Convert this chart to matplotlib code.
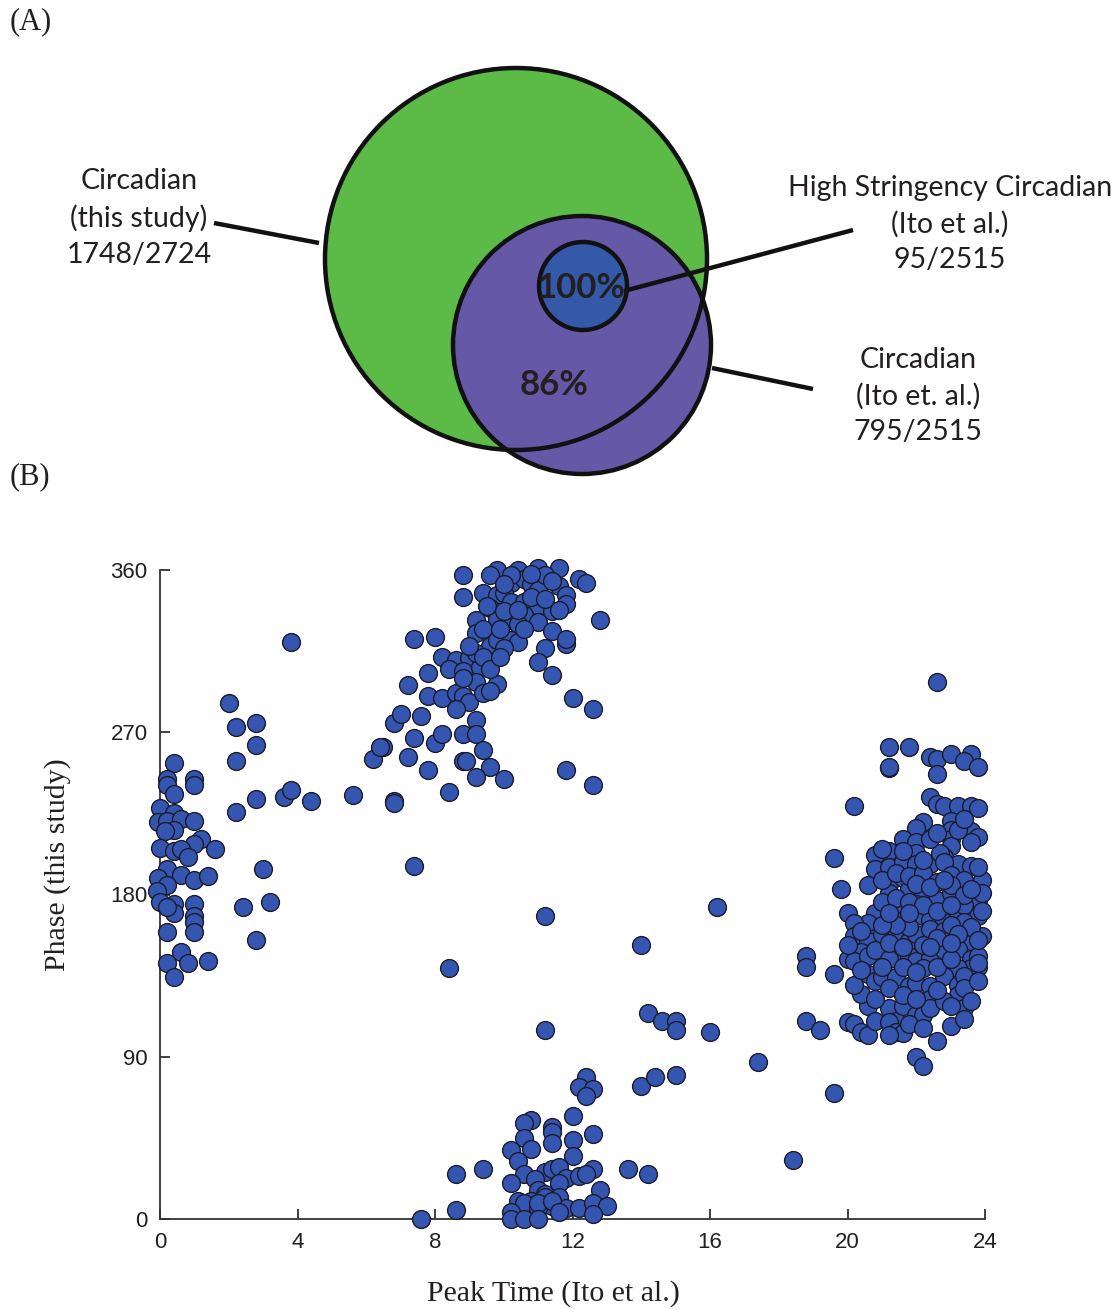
import numpy as np
import matplotlib
matplotlib.use("Agg")
import matplotlib.pyplot as plt
from matplotlib.patches import Circle

# ---- panel A (overlap of circadian gene sets) ----
venn_labels = ["Circadian\n(this study)\n1748/2724",
               "High Stringency Circadian\n(Ito et al.)\n95/2515",
               "Circadian\n(Ito et. al.)\n795/2515"]
venn_pcts = ["100%", "86%"]

# ---- panel B: (peak time Ito et al. [h], phase this study [deg]) ----
left_pts = [(0.4, 253), (0.2, 244), (0.2, 241), (0.4, 236), (1.0, 244), (1.0, 241), (0.0, 228),
            (-0.05, 220), (0.4, 225), (0.2, 221), (0.6, 222), (0.4, 216), (0.15, 215), (1.0, 221),
            (1.2, 211), (1.0, 208), (1.6, 205), (0.0, 206), (0.4, 204), (0.6, 205), (0.8, 201),
            (0.2, 194), (-0.05, 189), (0.6, 191), (1.0, 188), (1.4, 190), (0.2, 185), (-0.1, 182),
            (0.0, 176), (0.4, 175), (0.4, 170), (0.2, 173), (1.0, 175), (1.0, 168), (1.0, 165),
            (1.0, 159), (0.2, 159), (0.6, 148), (0.2, 142), (0.8, 142), (1.4, 143), (0.4, 134),
            (2.2, 254), (2.8, 263), (2.2, 226), (2.8, 233), (2.4, 173), (2.8, 155), (3.0, 194),
            (3.2, 176), (2.0, 286), (2.2, 273), (2.8, 275), (3.6, 234), (3.8, 238), (4.4, 232),
            (5.6, 235), (6.8, 232), (3.8, 320)]

top_pts = [(8.8, 357), (8.8, 345), (9.8, 360), (9.6, 357), (10.4, 360), (11.0, 361), (11.6, 361),
           (12.2, 355), (12.4, 353), (9.4, 347), (10.2, 353), (10.6, 355), (10.8, 352), (11.0, 349),
           (11.2, 357), (11.6, 351), (11.8, 346), (11.8, 341), (9.8, 346), (10.0, 347), (9.6, 339),
           (10.2, 342), (10.6, 342), (11.0, 340), (11.4, 337), (9.2, 332), (9.8, 333), (10.2, 332),
           (10.6, 335), (10.4, 330), (11.0, 331), (9.2, 325), (9.4, 327), (9.6, 318), (9.8, 321),
           (10.2, 321), (10.4, 320), (10.0, 317), (11.4, 326), (11.8, 319), (11.8, 322), (11.2, 317),
           (11.0, 309), (11.4, 302), (12.8, 332), (7.4, 322), (8.0, 323), (8.2, 312), (8.6, 310),
           (9.0, 311), (8.4, 305), (8.8, 304), (9.3, 306), (9.2, 314), (7.8, 303), (9.2, 298),
           (9.8, 297), (7.2, 296), (7.8, 290), (8.2, 289), (8.6, 292), (8.8, 290), (9.0, 287),
           (9.4, 292), (9.6, 293), (8.6, 283), (6.8, 275), (7.0, 280), (7.6, 279), (9.2, 277),
           (12.0, 289), (12.6, 283), (7.4, 267), (8.0, 264), (8.2, 269), (8.8, 269), (9.2, 269),
           (9.4, 260), (6.5, 262), (7.2, 256), (8.8, 254), (8.9, 254), (9.6, 251), (10.0, 244),
           (9.2, 245), (7.8, 249), (8.4, 237), (6.8, 231), (11.8, 249), (12.6, 241), (6.2, 255),
           (6.4, 262), (9.5, 340), (10.0, 337), (10.8, 345), (10.4, 338), (9.9, 327), (10.6, 327),
           (11.2, 344), (10.2, 357), (10.8, 358), (11.4, 354), (9.0, 318), (8.8, 300), (9.4, 312),
           (9.6, 305), (10.0, 352), (11.6, 338), (9.9, 312)]

mid_pts = [(8.4, 139), (11.2, 105), (14.2, 114), (14.6, 110), (15.0, 110), (15.0, 105), (16.0, 104),
           (17.4, 87), (14.0, 74), (14.4, 79), (15.0, 80), (12.4, 79), (12.2, 73), (12.6, 72),
           (12.4, 68), (12.0, 57), (10.8, 55), (10.6, 53), (11.4, 51), (11.4, 48), (10.6, 45),
           (11.4, 42), (12.0, 44), (12.6, 47), (10.8, 39), (10.2, 38), (10.4, 32), (12.0, 35),
           (9.4, 28), (8.6, 25), (13.6, 28), (14.2, 25), (10.6, 25), (10.2, 20), (11.2, 26),
           (11.4, 28), (11.6, 29), (11.8, 23), (12.2, 24), (12.6, 28), (12.4, 25), (10.9, 22),
           (11.6, 20), (12.8, 16), (11.0, 16), (11.2, 14), (11.6, 12), (11.2, 12), (10.4, 10),
           (10.8, 10), (10.6, 9), (11.4, 7), (11.8, 6), (10.2, 4), (11.0, 6), (11.0, 9), (12.2, 6),
           (12.6, 9), (13.0, 7), (12.6, 3), (10.2, 0), (10.6, 0), (11.0, 0), (8.6, 5), (7.6, 0),
           (11.4, 10), (11.6, 4), (16.2, 173), (14.0, 152), (11.2, 168), (7.4, 196), (18.4, 33)]

right_pts = [(22.6, 298), (21.2, 262), (21.8, 262), (21.2, 250), (21.2, 251), (22.4, 256), (22.6, 255),
             (23.0, 258), (23.6, 258), (23.4, 254), (23.8, 251), (22.6, 247), (20.2, 229), (22.4, 234),
             (22.6, 230), (22.8, 229), (23.2, 229), (23.6, 229), (23.8, 228), (22.2, 220), (22.0, 217),
             (23.0, 221), (23.0, 216), (23.6, 215), (23.8, 212), (21.6, 211), (22.0, 209), (23.0, 211),
             (23.0, 207), (23.6, 209), (19.6, 200), (20.8, 202), (21.2, 204), (21.7, 199), (22.0, 203),
             (22.4, 197), (22.8, 201), (23.2, 197), (23.6, 196), (20.8, 194), (21.2, 195), (22.7, 203),
             (19.8, 183), (20.6, 185), (21.6, 198), (22.0, 197), (22.8, 198), (21.2, 186), (21.2, 181),
             (21.6, 189), (21.8, 183), (22.2, 182), (22.6, 177), (23.0, 181), (23.0, 191), (23.4, 188),
             (23.8, 183), (23.8, 177), (20.0, 170), (20.8, 170), (20.6, 164), (20.2, 164), (20.2, 157),
             (21.4, 173), (21.2, 167), (21.6, 166), (22.0, 175), (22.2, 168), (22.4, 166), (22.8, 165),
             (23.2, 170), (23.4, 174), (23.8, 168), (20.8, 156), (20.6, 154), (21.0, 158), (21.4, 157),
             (21.8, 154), (22.0, 158), (22.4, 161), (22.8, 160), (23.4, 159), (23.6, 154), (20.4, 148),
             (20.0, 144), (20.2, 143), (20.6, 146), (21.4, 148), (21.8, 146), (22.0, 143), (22.4, 145),
             (22.8, 149), (23.2, 150), (23.6, 144), (23.8, 146), (23.8, 140), (23.6, 139), (23.2, 139),
             (19.6, 136), (20.6, 136), (20.8, 132), (21.0, 134), (21.4, 134), (21.8, 129), (22.0, 131),
             (22.4, 129), (22.8, 135), (23.2, 130), (23.2, 124), (20.6, 118), (21.2, 117), (21.4, 110),
             (21.6, 118), (22.0, 113), (22.2, 113), (22.4, 122), (22.4, 117), (22.8, 121), (23.4, 117),
             (20.0, 109), (20.2, 108), (20.4, 104), (20.6, 102), (20.8, 110), (21.2, 109), (21.4, 104),
             (21.6, 103), (21.2, 102), (22.6, 99), (23.0, 107), (22.0, 90), (22.2, 85), (18.8, 110),
             (19.2, 105), (18.8, 146), (18.8, 140), (19.6, 70), (21.0, 188), (21.4, 192), (21.8, 190),
             (22.2, 192), (22.6, 187), (23.0, 185), (23.4, 180), (23.9, 188), (23.9, 181), (23.9, 171),
             (23.9, 157), (23.8, 142), (21.0, 176), (21.4, 178), (21.8, 176), (22.2, 174), (22.6, 171),
             (23.0, 174), (23.4, 165), (23.0, 163), (22.6, 156), (22.2, 152), (21.8, 162), (21.4, 163),
             (21.0, 163), (20.8, 149), (21.2, 144), (21.6, 140), (22.2, 139), (22.6, 140), (23.0, 144),
             (23.4, 135), (21.2, 128), (21.6, 124), (22.0, 122), (22.6, 127), (23.0, 118), (23.4, 128),
             (23.6, 121), (23.4, 111), (21.8, 108), (22.2, 106), (20.4, 125), (20.8, 122), (20.2, 130),
             (20.4, 138), (21.0, 140), (22.0, 137), (21.2, 153), (21.6, 151), (22.4, 151), (23.8, 132),
             (23.6, 162), (23.2, 158), (23.0, 153), (22.0, 186), (22.4, 184), (21.8, 170), (21.2, 170),
             (20.4, 160), (20.0, 152), (23.8, 155), (23.8, 195), (23.6, 183), (22.8, 188), (22.2, 199),
             (21.0, 205), (21.6, 204), (22.4, 211), (23.2, 216), (23.4, 222), (22.6, 214)]

x_ticks = [0, 4, 8, 12, 16, 20, 24]
y_ticks = [0, 90, 180, 270, 360]

W, H = 1119, 1309
fig = plt.figure(figsize=(W / 100, H / 100), dpi=100)

# ---------- panel A ----------
hA = 0.38 * H
axA = fig.add_axes([0, 0.62, 1, 0.38])
axA.set_xlim(0, W)
axA.set_ylim(hA, 0)
axA.axis("off")

green, purple, blue = "#5cba47", "#6558a6", "#3459a9"
lw = 3.2
axA.add_patch(Circle((516, 259), 191, facecolor=green, edgecolor="none", zorder=1))
axA.add_patch(Circle((582, 345), 129, facecolor=purple, edgecolor="none", zorder=2))
axA.add_patch(Circle((516, 259), 191, facecolor="none", edgecolor="#111111", lw=lw, zorder=3))
axA.add_patch(Circle((582, 345), 129, facecolor="none", edgecolor="#111111", lw=lw, zorder=3))
axA.add_patch(Circle((583, 286), 44, facecolor=blue, edgecolor="#111111", lw=lw, zorder=4))

axA.plot([214, 319], [223, 243], color="#111111", lw=lw, solid_capstyle="butt", zorder=5)
axA.plot([624, 853], [291, 230], color="#111111", lw=lw, solid_capstyle="butt", zorder=5)
axA.plot([712, 813], [368, 389], color="#111111", lw=lw, solid_capstyle="butt", zorder=5)

vfont = dict(family="Lato", fontsize=20.5, color="#231f20", ha="center", va="center",
             linespacing=1.45)
axA.text(139, 218, venn_labels[0], **vfont)
axA.text(950, 224, venn_labels[1], clip_on=False, **vfont)
axA.text(918, 396, venn_labels[2], **vfont)
axA.text(581, 288, venn_pcts[0], family="Lato", fontsize=25, fontweight="bold",
         color="#231f20", ha="center", va="center", zorder=6)
axA.text(554, 385, venn_pcts[1], family="Lato", fontsize=25, fontweight="bold",
         color="#231f20", ha="center", va="center", zorder=6)

fig.text(10 / W, 1 - 22 / H, "(A)", family="Liberation Serif", fontsize=22,
         ha="left", va="center", color="#231f20")
fig.text(10 / W, 1 - 477 / H, "(B)", family="Liberation Serif", fontsize=22,
         ha="left", va="center", color="#231f20")

# ---------- panel B ----------
axB = fig.add_axes([160 / W, 1 - 1219 / H, 825 / W, 649 / H])
for pts in (left_pts, top_pts, mid_pts, right_pts):
    xs, ys = zip(*pts)
    axB.scatter(xs, ys, s=165, facecolor="#3556b0", edgecolor="#1b1b2b",
                linewidths=1.0, clip_on=False, zorder=3)

axB.set_xlim(0, 24)
axB.set_ylim(0, 360)
axB.set_xticks(x_ticks)
axB.set_yticks(y_ticks)
for s in ("top", "right"):
    axB.spines[s].set_visible(False)
for s in ("left", "bottom"):
    axB.spines[s].set_color("#333333")
    axB.spines[s].set_linewidth(1.3)
axB.tick_params(direction="in", length=7, width=1.3, color="#333333",
                labelsize=16, pad=9)
for lab in axB.get_xticklabels() + axB.get_yticklabels():
    lab.set_family("Liberation Sans")
    lab.set_color("#231f20")

fig.text(58 / W, 1 - 865 / H, "Phase (this study)", family="Liberation Serif", fontsize=21.5,
         rotation=90, ha="center", va="center", color="#231f20")
fig.text(553 / W, 1 - 1294 / H, "Peak Time (Ito et al.)", family="Liberation Serif",
         fontsize=21.5, ha="center", va="center", color="#231f20")

fig.savefig("out.png", dpi=100)
